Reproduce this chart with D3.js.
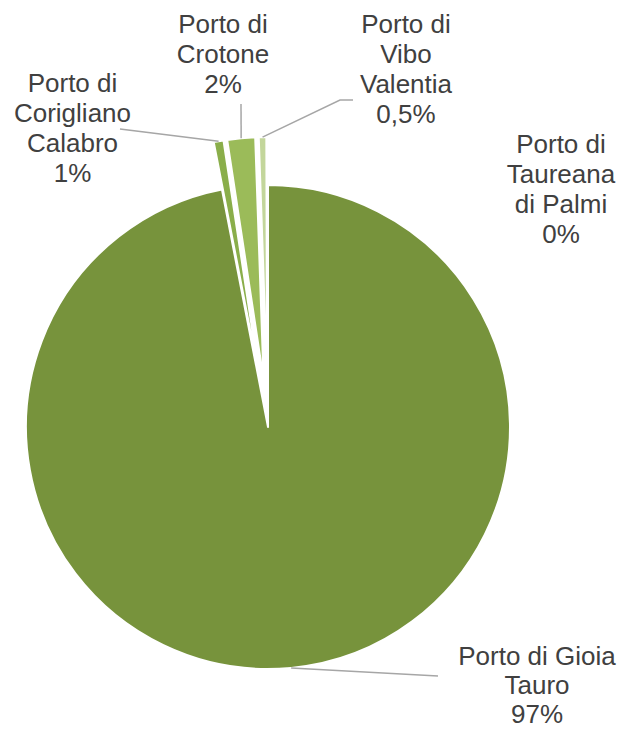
<!DOCTYPE html>
<html>
<head>
<meta charset="utf-8">
<script src="https://cdn.jsdelivr.net/npm/d3@7"></script>
<style>
  html, body { margin: 0; padding: 0; background: #ffffff; }
  svg { display: block; }
</style>
</head>
<body>
<svg id="chart" width="619" height="729"></svg>
<script>
// ---- data ----
const categories = ["Porto di Gioia Tauro", "Porto di Corigliano Calabro", "Porto di Crotone", "Porto di Vibo Valentia", "Porto di Taureana di Palmi"];
const values = [96.95, 0.65, 1.85, 0.5, 0.05];
const percentLabels = ["97%", "1%", "2%", "0,5%", "0%"];
const labelLines = [
  ["Porto di Gioia", "Tauro"],
  ["Porto di", "Corigliano", "Calabro"],
  ["Porto di", "Crotone"],
  ["Porto di", "Vibo", "Valentia"],
  ["Porto di", "Taureana", "di Palmi"]
];
const colors = ["#77933C", "#8AAE4A", "#9BBB59", "#C3D69B", "#D7E4BD"];

// ---- layout ----
const svg = d3.select("#chart");
const cx = 268, cy = 427, radius = 242;
const explode = [0, 48, 48, 48, 48];
const fontSize = 26;
const labelAnchors = [[537, 665], [72.5, 92], [223, 33], [406, 33], [561, 153]];
const labelLineH = [29, 30, 30, 30, 30];
// leader start points (label side)
const leaderStart = [[438, 676], [120, 129], [241, 104], [[353, 100], [340, 100]], null];

const pie = d3.pie().value(d => d).sort(null).startAngle(0).endAngle(2 * Math.PI);
const arcs = pie(values);
const arc = d3.arc().innerRadius(0).outerRadius(radius);

const g = svg.append("g").attr("transform", `translate(${cx},${cy})`);

function offsetOf(d, i) {
  const a = (d.startAngle + d.endAngle) / 2;
  return [explode[i] * Math.sin(a), -explode[i] * Math.cos(a)];
}

g.selectAll("path.slice")
  .data(arcs)
  .join("path")
  .attr("class", "slice")
  .attr("d", arc)
  .attr("transform", (d, i) => { const o = offsetOf(d, i); return `translate(${o[0]},${o[1]})`; })
  .attr("fill", (d, i) => colors[i])
  .attr("stroke", "#ffffff")
  .attr("stroke-width", 2)
  .attr("stroke-linejoin", "round");

// leader lines
arcs.forEach((d, i) => {
  const st = leaderStart[i];
  if (!st) return;
  const a = (d.startAngle + d.endAngle) / 2;
  const o = offsetOf(d, i);
  const ex = cx + o[0] + radius * Math.sin(a);
  const ey = cy + o[1] - radius * Math.cos(a);
  let pts = Array.isArray(st[0]) ? st.slice() : [st];
  pts.push([ex, ey]);
  svg.append("path")
    .attr("d", d3.line()(pts))
    .attr("fill", "none")
    .attr("stroke", "#A6A6A6")
    .attr("stroke-width", 1.5);
});

// labels
arcs.forEach((d, i) => {
  const lines = labelLines[i].concat([percentLabels[i]]);
  const t = svg.append("text")
    .attr("x", labelAnchors[i][0])
    .attr("y", labelAnchors[i][1])
    .attr("text-anchor", "middle")
    .attr("font-family", "'Liberation Sans', Arial, sans-serif")
    .attr("font-size", fontSize)
    .attr("fill", "#404040");
  lines.forEach((s, k) => {
    t.append("tspan")
      .attr("x", labelAnchors[i][0])
      .attr("y", labelAnchors[i][1] + k * labelLineH[i])
      .text(s);
  });
});
</script>
</body>
</html>
